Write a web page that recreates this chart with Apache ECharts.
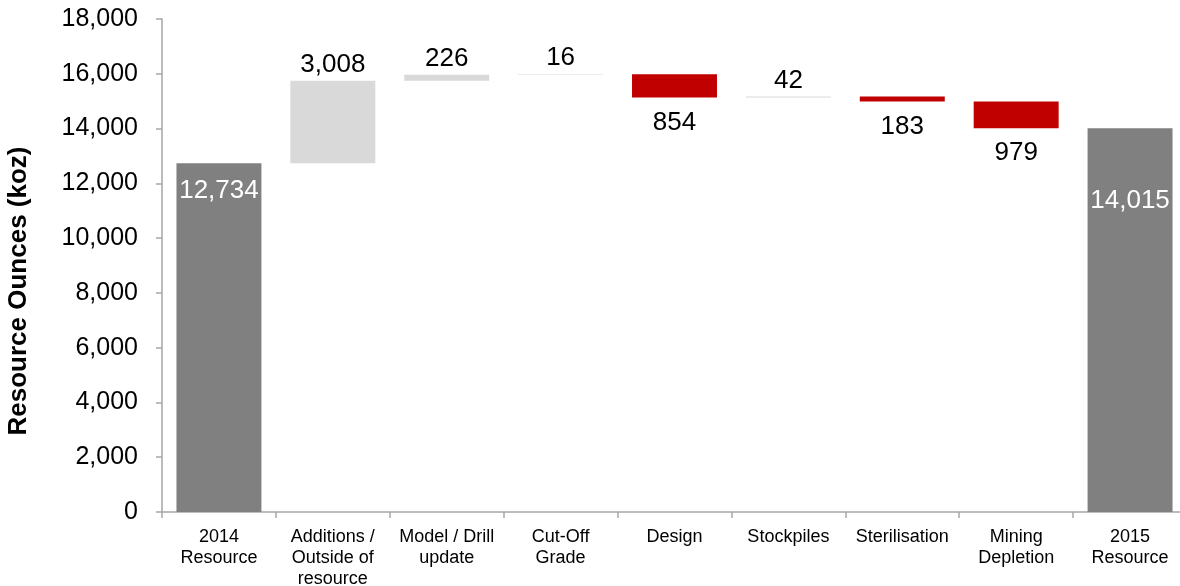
<!DOCTYPE html>
<html><head><meta charset="utf-8">
<script src="https://cdn.jsdelivr.net/npm/echarts@6/dist/echarts.min.js"></script>
<style>html,body{margin:0;padding:0;background:#fff;overflow:hidden}#c{width:1200px;height:586px}</style>
</head><body><div id="c"></div>
<script>
var categories = ['2014\nResource','Additions /\nOutside of\nresource','Model / Drill\nupdate','Cut-Off\nGrade','Design','Stockpiles','Sterilisation','Mining\nDepletion','2015\nResource'];
var totals = [12734, null, null, null, null, null, null, null, 14015];
var deltas = [null, 3008, 226, 16, -854, 42, -183, -979, null];
var yTicks = [0, 2000, 4000, 6000, 8000, 10000, 12000, 14000, 16000, 18000];

var font = '"Liberation Sans", Arial, sans-serif';
var totalLabelDist = [15, 0, 0, 0, 0, 0, 0, 0, 60];
var base = [], totalData = [], posData = [], negData = [];
var run = 0;
for (var i = 0; i < categories.length; i++) {
  if (totals[i] !== null) {
    base.push(0);
    totalData.push({ value: totals[i], label: { distance: totalLabelDist[i] } });
    posData.push('-'); negData.push('-');
    run = totals[i];
  } else {
    var d = deltas[i];
    if (d >= 0) { base.push(run); posData.push(d); negData.push('-'); run += d; }
    else { base.push(run + d); negData.push(-d); posData.push('-'); run += d; }
    totalData.push('-');
  }
}
function fmt(v){ return Number(v).toLocaleString('en-US'); }
var chart = echarts.init(document.getElementById('c'));
chart.setOption({
  animation: false,
  grid: { left: 162, top: 19, bottom: 74, right: 13, containLabel: false, outerBoundsMode: 'none' },
  xAxis: {
    type: 'category', data: categories,
    axisLine: { lineStyle: { color: '#a6a6a6', width: 1.5 } },
    axisTick: { show: true, length: 6, lineStyle: { color: '#a6a6a6', width: 1.5 } },
    axisLabel: { color: '#000', fontFamily: font, fontSize: 18, lineHeight: 21, margin: 15, interval: 0 }
  },
  yAxis: {
    type: 'value', min: yTicks[0], max: yTicks[yTicks.length - 1], interval: yTicks[1] - yTicks[0],
    name: 'Resource Ounces (koz)', nameLocation: 'middle', nameGap: 130, nameRotate: 90,
    nameTextStyle: { color: '#000', fontFamily: font, fontSize: 26, fontWeight: 'bold', padding: [0, 51, 0, 0] },
    axisLine: { show: true, lineStyle: { color: '#a6a6a6', width: 1.5 } },
    axisTick: { show: true, length: 6, lineStyle: { color: '#a6a6a6', width: 1.5 } },
    splitLine: { show: false },
    axisLabel: { color: '#000', fontFamily: font, fontSize: 25, margin: 24,
      formatter: function(v){ return fmt(v); } }
  },
  series: [
    { type: 'bar', stack: 'w', data: base, barCategoryGap: '25.4%', itemStyle: { color: 'transparent' }, silent: true },
    { type: 'bar', stack: 'w', data: totalData, itemStyle: { color: '#808080' },
      label: { show: true, position: 'insideTop', color: '#fff', fontFamily: font, fontSize: 26,
        formatter: function(p){ return fmt(p.value); } } },
    { type: 'bar', stack: 'w', data: posData, itemStyle: { color: '#d9d9d9' },
      label: { show: true, position: 'top', distance: 3, color: '#000', fontFamily: font, fontSize: 26,
        formatter: function(p){ return fmt(p.value); } } },
    { type: 'bar', stack: 'w', data: negData, itemStyle: { color: '#c00000' },
      label: { show: true, position: 'bottom', distance: 12, color: '#000', fontFamily: font, fontSize: 26,
        formatter: function(p){ return fmt(p.value); } } }
  ]
});
</script></body></html>
